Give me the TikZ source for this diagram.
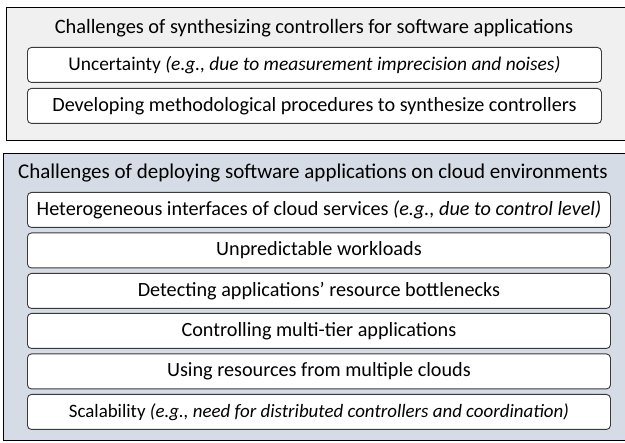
\documentclass[tikz,border=0pt]{standalone}
\usepackage{fontspec}
\setmainfont{Carlito}
\definecolor{synthfill}{HTML}{F0F0F0}
\definecolor{cloudfill}{HTML}{D6DCE5}
\definecolor{itemline}{HTML}{3A3A3A}
\tikzset{
  panel/.style={draw=black, line width=1.1pt, anchor=north west, inner sep=0pt},
  itembox/.style={draw=itemline, fill=white, line width=0.9pt, rounded corners=4pt,
    anchor=north west, inner sep=0pt, minimum height=35pt, font=\fontsize{20.2}{23}\selectfont},
  heading/.style={inner sep=0pt, font=\fontsize{20.4}{23}\selectfont},
}
\begin{document}
\begin{tikzpicture}[x=1pt,y=-1pt]
\useasboundingbox (0,0) rectangle (625,443);
\clip (0,0) rectangle (625,443);

% upper panel: controller synthesis
\node[panel, fill=synthfill, minimum width=625pt, minimum height=133pt] (synth) at (6,7) {};
\node[heading] (synthtitle) at (314,28) {Challenges of synthesizing controllers for software applications};
\node[itembox, minimum width=574pt, font=\fontsize{19.4}{23}\selectfont] (uncert) at (27,47) {Uncertainty \textit{(e.g., due to measurement imprecision and noises)}};
\node[itembox, minimum width=574pt] (method) at (27,88) {Developing methodological procedures to synthesize controllers};

% lower panel: deployment on clouds
\node[panel, fill=cloudfill, minimum width=630pt, minimum height=287pt] (cloud) at (3,153) {};
\node[heading, font=\fontsize{21}{23}\selectfont] (cloudtitle) at (313,173) {Challenges of deploying software applications on cloud environments};
\node[itembox, minimum width=583pt] (hetero) at (27,192) {Heterogeneous interfaces of cloud services \textit{(e.g., due to control level)}};
\node[itembox, minimum width=583pt] (workload) at (27,232.5) {Unpredictable workloads};
\node[itembox, minimum width=583pt] (bottle) at (27,273) {Detecting applications’ resource bottlenecks};
\node[itembox, minimum width=583pt] (multitier) at (27,313) {Controlling multi-tier applications};
\node[itembox, minimum width=583pt] (multicloud) at (27,353.5) {Using resources from multiple clouds};
\node[itembox, minimum width=583pt, font=\fontsize{18.9}{23}\selectfont] (scale) at (27,394) {Scalability \textit{(e.g., need for distributed controllers and coordination)}};
\end{tikzpicture}
\end{document}
